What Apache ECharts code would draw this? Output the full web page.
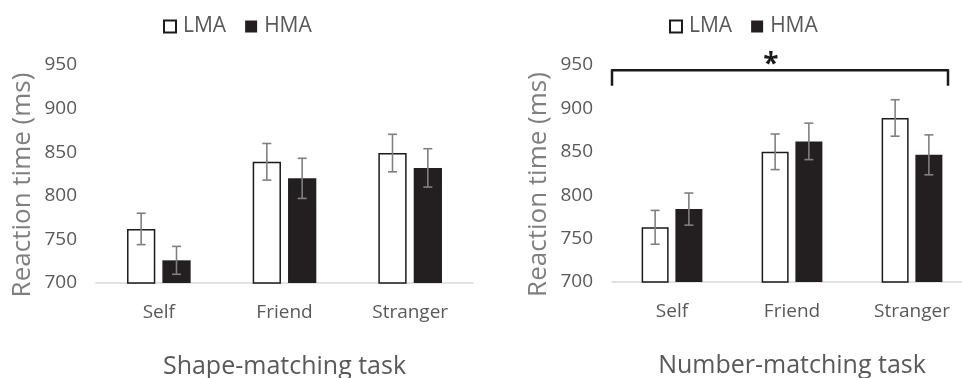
<!DOCTYPE html>
<html><head><meta charset="utf-8">
<script src="https://cdn.jsdelivr.net/npm/echarts@6/dist/echarts.min.js"></script>
<style>html,body{margin:0;padding:0;background:#fff}#c{width:962px;height:378px}</style>
</head><body><div id="c"></div>
<script>
const categories = ['Self', 'Friend', 'Stranger'];
const shapeLMA = [762, 839, 849];
const shapeLMAErr = [18, 21, 21.5];
const shapeHMA = [726, 820, 832];
const shapeHMAErr = [16, 23, 22];
const numberLMA = [763, 850, 889];
const numberLMAErr = [19.5, 20.5, 21];
const numberHMA = [784, 862, 846.5];
const numberHMAErr = [18.5, 21, 23];
const yMin = 700, yMax = 950, yStep = 50;
const panelTitles = ['Shape-matching task', 'Number-matching task'];
const yTitle = 'Reaction time (ms)';
const seriesNames = ['LMA', 'HMA'];

const FONT = 'Open Sans';
const BAR_W = 0.225, BAR_GAP = 0.25;
const chart = echarts.init(document.getElementById('c'));

function errSeries(gi, vals, errs, side) {
  return {
    type: 'custom', xAxisIndex: gi, yAxisIndex: gi, z: 5, silent: true,
    data: vals.map((v, i) => [i, v, errs[i]]),
    renderItem: function (params, api) {
      const i = api.value(0), v = api.value(1), e = api.value(2);
      const band = api.size([1, 0])[0];
      const bw = band * BAR_W, gap = bw * BAR_GAP;
      const cx = api.coord([i, v])[0] + side * (bw + gap) / 2;
      const yt = api.coord([i, v + e])[1], yb = api.coord([i, v - e])[1];
      const cap = 4.5;
      const st = { stroke: '#808080', lineWidth: 1.6 };
      return { type: 'group', children: [
        { type: 'line', shape: { x1: cx, y1: yt, x2: cx, y2: yb }, style: st },
        { type: 'line', shape: { x1: cx - cap, y1: yt, x2: cx + cap, y2: yt }, style: st },
        { type: 'line', shape: { x1: cx - cap, y1: yb, x2: cx + cap, y2: yb }, style: st }
      ]};
    }
  };
}
function barSeries(gi, name, vals) {
  const isL = name === 'LMA';
  return {
    type: 'bar', name: name, xAxisIndex: gi, yAxisIndex: gi, data: vals,
    barWidth: (BAR_W * 100) + '%', barGap: (BAR_GAP * 100) + '%',
    itemStyle: isL ? { color: '#ffffff', borderColor: '#1a1a1a', borderWidth: 1.5 }
                   : { color: '#231f20' }
  };
}
const grids = [
  { left: 96, top: 65, width: 377, height: 218, outerBoundsMode: 'none', containLabel: false },
  { left: 612, top: 65, width: 360, height: 217, outerBoundsMode: 'none', containLabel: false }
];
const xAxes = grids.map((g, i) => ({
  type: 'category', gridIndex: i, data: categories,
  axisLine: { lineStyle: { color: '#d9d9d9', width: 1.5 } },
  axisTick: { show: false },
  axisLabel: { color: '#595959', fontFamily: FONT, fontSize: 19, margin: 20 },
  name: panelTitles[i], nameLocation: 'middle', nameGap: 71,
  nameTextStyle: { color: '#595959', fontFamily: FONT, fontSize: 25 }
}));
const yAxes = grids.map((g, i) => ({
  type: 'value', gridIndex: i, min: yMin, max: yMax, interval: yStep,
  axisLine: { show: false }, axisTick: { show: false }, splitLine: { show: false },
  axisLabel: { color: '#595959', fontFamily: FONT, fontSize: 19, margin: 19 },
  name: yTitle, nameLocation: 'middle', nameGap: 60, nameRotate: 90,
  nameTextStyle: { color: '#7f7f7f', fontFamily: FONT, fontSize: 26, padding: [0, 22, 0, 0] }
}));
const legendCommon = {
  data: seriesNames, itemWidth: 12, itemHeight: 12, itemGap: 19, icon: 'rect', top: 11,
  textStyle: { color: '#595959', fontFamily: FONT, fontSize: 21, padding: [0, 0, 0, 2] }
};
chart.setOption({
  animation: false,
  grid: grids,
  xAxis: xAxes,
  yAxis: yAxes,
  legend: [
    Object.assign({}, legendCommon, { left: 158 }),
    Object.assign({}, legendCommon, { left: 664 })
  ],
  series: [
    barSeries(0, 'LMA', shapeLMA), barSeries(0, 'HMA', shapeHMA),
    barSeries(1, 'LMA', numberLMA), barSeries(1, 'HMA', numberHMA),
    errSeries(0, shapeLMA, shapeLMAErr, -1), errSeries(0, shapeHMA, shapeHMAErr, 1),
    errSeries(1, numberLMA, numberLMAErr, -1), errSeries(1, numberHMA, numberHMAErr, 1)
  ]
});
// significance bracket on the right panel
const yTop = chart.convertToPixel({ yAxisIndex: 1 }, 944);
const yEnd = chart.convertToPixel({ yAxisIndex: 1 }, 926);
const xL = 612, xR = 948;
chart.setOption({
  graphic: [
    { type: 'polyline', shape: { points: [[xL, yEnd], [xL, yTop], [xR, yTop], [xR, yEnd]] },
      style: { fill: null, stroke: '#1a1a1a', lineWidth: 2.5, lineJoin: 'round' } },
    { type: 'text', x: 771, y: yTop + 9, style: { text: '*', fill: '#1a1a1a', font: 'bold 28px ' + FONT, textAlign: 'center', textVerticalAlign: 'bottom' } }
  ]
});
</script></body></html>
